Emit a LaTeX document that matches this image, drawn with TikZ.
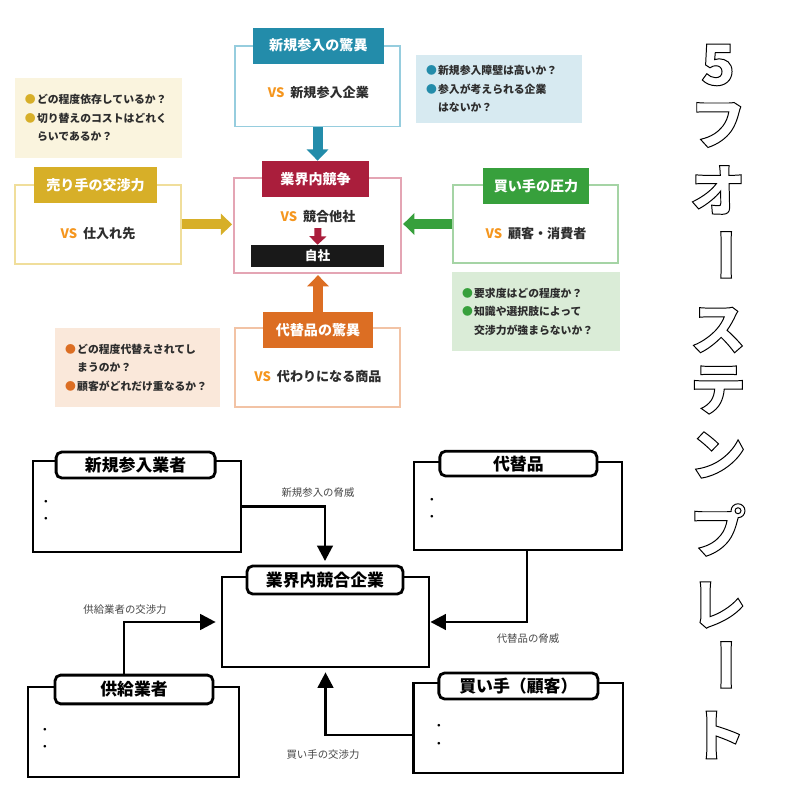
\documentclass[tikz,border=0pt]{standalone}
\usepackage{fontspec}
\setmainfont{Noto Sans CJK JP}
\usetikzlibrary{arrows.meta, positioning, calc}
\definecolor{tealmain}{RGB}{35, 140, 170}
\definecolor{tealline}{RGB}{150, 205, 222}
\definecolor{tealnote}{RGB}{215, 234, 241}
\definecolor{crimson}{RGB}{170, 30, 60}
\definecolor{pinkline}{RGB}{228, 165, 180}
\definecolor{mustard}{RGB}{215, 175, 40}
\definecolor{mustardline}{RGB}{240, 222, 155}
\definecolor{mustardnote}{RGB}{250, 244, 222}
\definecolor{leafgreen}{RGB}{55, 160, 60}
\definecolor{leafline}{RGB}{165, 212, 165}
\definecolor{leafnote}{RGB}{218, 236, 215}
\definecolor{rust}{RGB}{220, 110, 35}
\definecolor{rustline}{RGB}{242, 195, 165}
\definecolor{rustnote}{RGB}{250, 232, 218}
\definecolor{vsorange}{RGB}{245, 150, 30}
\definecolor{inkgray}{RGB}{45, 45, 45}
\definecolor{labelgray}{RGB}{70, 70, 70}
\newcommand{\vsmark}{{\color{vsorange}VS}\hspace{0.45em}}
\newcommand{\ballmark}[1]{{\color{#1}●}\hspace{0.12em}}
\newcommand{\ballgap}{\phantom{●}\hspace{0.12em}}
\newcommand{\hollow}[1]{\special{pdf:literal direct 1 Tr 0.7 w 0 G}#1\special{pdf:literal direct 0 Tr}}

\begin{document}
\begin{tikzpicture}[
    framebox/.style={draw, line width=0.9pt, fill=white, inner sep=0pt},
    headbox/.style={minimum height=0.9cm, inner sep=2pt, text=white,
        font=\fontsize{10}{12}\selectfont\bfseries},
    vstext/.style={font=\fontsize{9.3}{11}\selectfont\bfseries, text=inkgray},
    notebox/.style={align=left, inner xsep=0.25cm, inner ysep=0pt,
        font=\fontsize{7.7}{13.3}\selectfont\bfseries, text=inkgray},
    fatflow/.style={line width=7pt, -{Triangle[width=15pt,length=8pt]}},
    plainbox/.style={draw, line width=2pt, fill=white, inner sep=0pt},
    plaintag/.style={draw, line width=2pt, fill=white, rounded corners=4pt,
        inner sep=0pt, font=\fontsize{12}{14}\selectfont\bfseries},
    dotmark/.style={inner sep=0pt, font=\fontsize{9}{9}\selectfont},
    flowlabel/.style={inner sep=1pt, text=labelgray, font=\fontsize{7.4}{9}\selectfont},
    plainflow/.style={line width=2pt, -{Triangle[width=11pt,length=11pt]}},
    titlechar/.style={inner sep=0pt, font=\fontsize{40}{40}\selectfont\bfseries}
]
    \useasboundingbox (0,0) rectangle (20,20);

    % upper chart: five forces boxes
    \node[framebox, draw=tealline, minimum width=4.125cm, minimum height=2.02cm] (newbox) at (7.94,17.84) {};
    \node[headbox, fill=tealmain, minimum width=3.28cm] (newhdr) at (7.96,18.86) {新規参入の驚異};
    \node[vstext] (newvs) at (7.96,17.675) {\vsmark 新規参入企業};

    \node[framebox, draw=pinkline, minimum width=4.175cm, minimum height=2.375cm] (rivalbox) at (7.94,14.36) {};
    \node[headbox, fill=crimson, minimum width=2.675cm] (rivalhdr) at (7.89,15.525) {業界内競争};
    \node[vstext] (rivalvs) at (7.95,14.575) {\vsmark 競合他社};
    \node[fill=black!90, minimum width=3.325cm, minimum height=0.55cm, inner sep=0pt,
        text=white, font=\fontsize{9}{11}\selectfont\bfseries] (ownco) at (7.94,13.6) {自社};

    \node[framebox, draw=mustardline, minimum width=4.15cm, minimum height=1.975cm] (sellerbox) at (2.45,14.39) {};
    \node[headbox, fill=mustard, minimum width=3.075cm] (sellerhdr) at (2.39,15.375) {売り手の交渉力};
    \node[vstext] (sellervs) at (2.45,14.15) {\vsmark 仕入れ先};

    \node[framebox, draw=leafline, minimum width=4.125cm, minimum height=1.95cm] (buyerbox) at (13.39,14.4) {};
    \node[headbox, fill=leafgreen, minimum width=2.65cm] (buyerhdr) at (13.4,15.35) {買い手の圧力};
    \node[vstext] (buyervs) at (13.4,14.15) {\vsmark 顧客・消費者};

    \node[framebox, draw=rustline, minimum width=4.125cm, minimum height=1.975cm] (substbox) at (7.94,10.81) {};
    \node[headbox, fill=rust, minimum width=2.75cm] (substhdr) at (7.95,11.74) {代替品の驚異};
    \node[vstext] (substvs) at (7.95,10.575) {\vsmark 代わりになる商品};

    % notes
    \node[notebox, fill=tealnote, text width=3.65cm, minimum height=1.7cm] (newnote) at (12.475,17.775)
        {\ballmark{tealmain}新規参入障壁は高いか？\\\ballmark{tealmain}参入が考えられる企業\\\ballgap はないか？};
    \node[notebox, fill=mustardnote, text width=3.675cm, minimum height=2.0cm] (sellernote) at (2.46,17.05)
        {\ballmark{mustard}どの程度依存しているか？\\\ballmark{mustard}切り替えのコストはどれく\\\ballgap らいであるか？};
    \node[notebox, fill=leafnote, text width=3.7cm, minimum height=1.975cm] (buyernote) at (13.4,12.21)
        {\ballmark{leafgreen}要求度はどの程度か？\\\ballmark{leafgreen}知識や選択肢によって\\\ballgap 交渉力が強まらないか？};
    \node[notebox, fill=rustnote, text width=3.625cm, minimum height=1.975cm] (substnote) at (3.44,10.81)
        {\ballmark{rust}どの程度代替えされてし\\\ballgap まうのか？\\\ballmark{rust}顧客がどれだけ重なるか？};

    \draw[fatflow, tealmain] (newbox.south) -- (newbox.south |- rivalhdr.north);
    \draw[fatflow, mustard] (sellerbox.east) -- ([xshift=-1pt]rivalbox.west |- sellerbox.east);
    \draw[fatflow, leafgreen] (buyerbox.west) -- ([xshift=1pt]rivalbox.east |- buyerbox.west);
    \draw[fatflow, rust] (substhdr.north) -- ([yshift=-1pt]substhdr.north |- rivalbox.south);
    \draw[line width=5pt, crimson, -{Triangle[width=12pt,length=6pt]}] (rivalvs.south) -- (ownco.north);

    % lower chart: blank template
    \node[plainbox, minimum width=5.2cm, minimum height=2.275cm] (entrant) at (3.425,7.3375) {};
    \node[plaintag, minimum width=3.975cm, minimum height=0.65cm] (entranttag) at (3.39,8.375) {新規参入業者};
    \node[dotmark] (entrantdot1) at (1.15,7.425) {・};
    \node[dotmark] (entrantdot2) at (1.15,7.0) {・};

    \node[plainbox, minimum width=5.175cm, minimum height=2.25cm] (rival) at (8.1375,4.45) {};
    \node[plaintag, minimum width=3.9cm, minimum height=0.7cm] (rivaltag) at (8.125,5.5) {業界内競合企業};

    \node[plainbox, minimum width=5.2cm, minimum height=2.2cm] (subst) at (12.95,7.35) {};
    \node[plaintag, minimum width=3.925cm, minimum height=0.62cm] (substtag) at (12.96,8.41) {代替品};
    \node[dotmark] (substdot1) at (10.8,7.475) {・};
    \node[dotmark] (substdot2) at (10.8,7.05) {・};

    \node[plainbox, minimum width=5.275cm, minimum height=2.25cm] (supplier) at (3.3375,1.7) {};
    \node[plaintag, minimum width=3.95cm, minimum height=0.72cm] (suppliertag) at (3.35,2.7625) {供給業者};
    \node[dotmark] (supplierdot1) at (1.125,1.725) {・};
    \node[dotmark] (supplierdot2) at (1.125,1.3) {・};

    \node[plainbox, minimum width=5.225cm, minimum height=2.25cm] (buyer) at (12.96,1.8) {};
    \node[plaintag, minimum width=3.975cm, minimum height=0.65cm] (buyertag) at (12.96,2.85) {買い手（顧客）};
    \node[dotmark] (buyerdot1) at (10.975,1.825) {・};
    \node[dotmark] (buyerdot2) at (10.975,1.375) {・};

    \node[flowlabel] (entrantlbl) at (7.95,7.675) {新規参入の脅威};
    \node[flowlabel] (supplierlbl) at (3.125,4.75) {供給業者の交渉力};
    \node[flowlabel] (substlbl) at (13.2,4.025) {代替品の脅威};
    \node[flowlabel] (buyerlbl) at (8.075,1.125) {買い手の交渉力};

    \draw[plainflow, shorten >=2.5pt] (entrant.east) -| (rivaltag.north);
    \draw[plainflow, shorten >=3.5pt] ([xshift=-0.25cm]suppliertag.north) |- (rival.west);
    \draw[plainflow] ([xshift=0.225cm]subst.south) |- (rival.east);
    \draw[plainflow, shorten >=2.8pt] ([yshift=-0.175cm]buyer.west) -| (rival.south);

    % vertical title
    \node[titlechar] (title1) at (17.95,18.375) {\hollow{5}};
    \node[titlechar] (title2) at (17.95,16.875) {\hollow{フ}};
    \node[titlechar] (title3) at (17.95,15.25) {\hollow{オ}};
    \node[titlechar, rotate=-90] (title4) at (17.95,13.625) {\hollow{ー}};
    \node[titlechar] (title5) at (17.95,11.75) {\hollow{ス}};
    \node[titlechar] (title6) at (17.95,10.25) {\hollow{テ}};
    \node[titlechar] (title7) at (17.95,8.625) {\hollow{ン}};
    \node[titlechar] (title8) at (17.95,6.75) {\hollow{プ}};
    \node[titlechar] (title9) at (17.95,4.875) {\hollow{レ}};
    \node[titlechar, rotate=-90] (title10) at (17.95,3.375) {\hollow{ー}};
    \node[titlechar] (title11) at (17.95,1.625) {\hollow{ト}};
\end{tikzpicture}
\end{document}
